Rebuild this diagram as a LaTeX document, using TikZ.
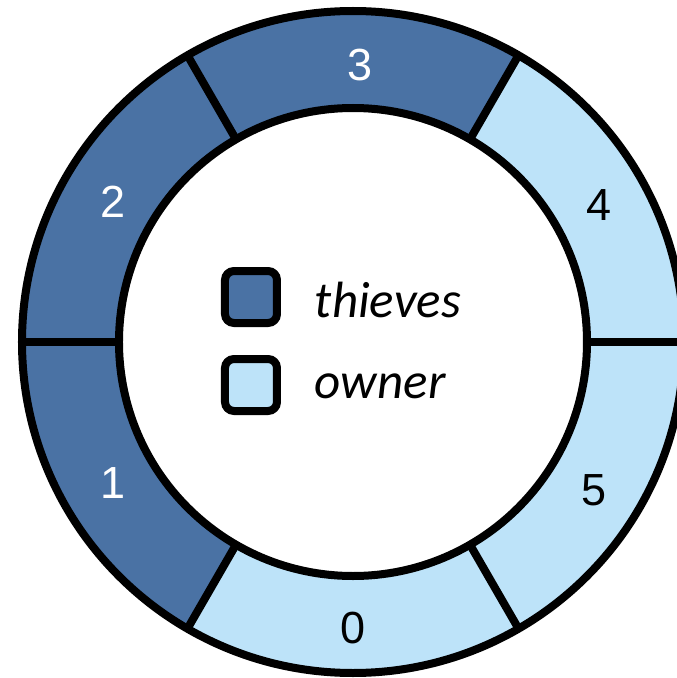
\documentclass[tikz,border=0pt]{standalone}
\usepackage{fontspec}
\setmainfont{Liberation Sans}
\newfontfamily\legendfont{Carlito}
\usepackage{xcolor}
\usepackage{tikz}
\usetikzlibrary{positioning}

\definecolor{thiefblue}{HTML}{4A72A4}
\definecolor{ownerblue}{HTML}{BDE3F9}

\tikzset{
    seglabel/.style={font=\fontsize{45}{50}\selectfont, inner sep=0pt},
    legendbox/.style={draw, line width=8pt, rounded corners=9pt, minimum size=52pt, inner sep=0pt},
    legendtext/.style={font=\legendfont\itshape\fontsize{51}{56}\selectfont, inner sep=0pt, anchor=base west}
}

\begin{document}
\begin{tikzpicture}[x=1pt, y=1pt, line width=8pt]
    \useasboundingbox (-353,-336) rectangle (324,342);
    % 1. Các cung của vành tròn
    \foreach \a/\col in {0/ownerblue, 60/thiefblue, 120/thiefblue, 180/thiefblue, 240/ownerblue, 300/ownerblue}
        \fill[\col] (\a:234) -- (\a:331) arc[start angle=\a, delta angle=60, radius=331]
            -- ({\a+60}:234) arc[start angle={\a+60}, delta angle=-60, radius=234] -- cycle;

    % 2. Đường viền
    \draw (0,0) circle[radius=331];
    \draw (0,0) circle[radius=234];
    \foreach \a in {0,60,...,300}
        \draw (\a:234) -- (\a:331);

    % 3. Nhãn các cung
    \node[seglabel, black] (s4) at (246,137) {4};
    \node[seglabel, white] (s3) at (7,277) {3};
    \node[seglabel, white] (s2) at (-240,140) {2};
    \node[seglabel, white] (s1) at (-240,-141) {1};
    \node[seglabel, black] (s0) at (0,-286) {0};
    \node[seglabel, black] (s5) at (241,-148) {5};

    % 4. Chú thích
    \node[legendbox, fill=thiefblue] (thief) at (-102,45) {};
    \node[legendbox, fill=ownerblue] (owner) at (-102,-43) {};
    \node[legendtext] (thieftext) at (-42,25) {thieves};
    \node[legendtext] (ownertext) at (-42,-56) {owner};
\end{tikzpicture}
\end{document}
